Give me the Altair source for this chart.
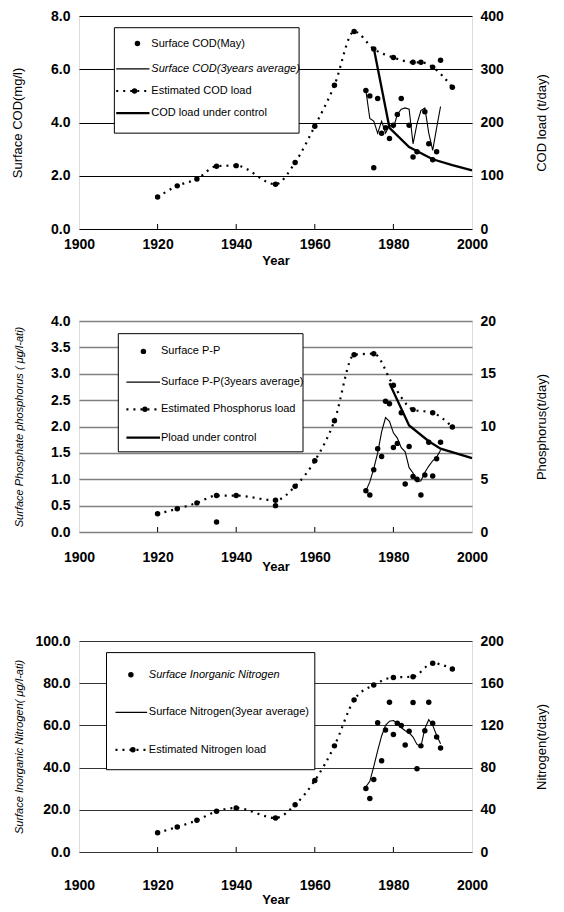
import altair as alt
import pandas as pd

# ---------------- data ----------------
# Panel 1 : COD
cod_may_years = [1973, 1974, 1975, 1976, 1977, 1978, 1979, 1980, 1981, 1982, 1984, 1985, 1986, 1988, 1989, 1990, 1991]
cod_may_vals = [5.2, 5.0, 2.3, 4.9, 3.6, 3.8, 3.4, 3.9, 4.3, 4.9, 3.9, 2.7, 2.9, 4.4, 3.2, 2.6, 2.9]
cod_avg_years = list(range(1973, 1993))
cod_avg_vals = [5.2, 4.15, 4.05, 3.6, 4.05, 3.6, 3.9, 3.8, 4.3, 4.5, 4.55, 4.5, 3.2, 3.95, 4.45, 4.55, 3.6, 2.95, 3.8, 4.6]
cod_load_years = [1920, 1925, 1930, 1935, 1940, 1950, 1955, 1960, 1965, 1970, 1975, 1980, 1985, 1987, 1990, 1995]
cod_load_vals = [60, 81, 94, 118, 119, 84, 125, 193, 270, 371, 338, 322, 313, 313, 304, 266]
cod_load_extra_years = [1992]
cod_load_extra_vals = [317]
cod_ctrl_years = [1975, 1979, 1984, 1990, 1995, 2000]
cod_ctrl_vals = [340, 190, 154, 131, 120, 110]

# Panel 2 : phosphorus
pp_years = [1935, 1950, 1973, 1974, 1975, 1976, 1977, 1978, 1979, 1980, 1981, 1982, 1983, 1984, 1985, 1986, 1987, 1988, 1989, 1990, 1991, 1992]
pp_vals = [0.19, 0.50, 0.78, 0.70, 1.18, 1.58, 1.43, 2.48, 2.43, 1.60, 1.68, 2.26, 0.91, 1.62, 1.05, 1.00, 0.70, 1.08, 1.70, 1.06, 1.39, 1.70]
pp_avg_years = list(range(1973, 1993))
pp_avg_vals = [0.78, 0.95, 1.2, 1.5, 1.9, 2.17, 2.1, 1.88, 1.78, 1.6, 1.52, 1.22, 1.12, 0.95, 0.97, 1.13, 1.25, 1.35, 1.42, 1.55]
p_load_years = [1920, 1925, 1930, 1935, 1940, 1950, 1955, 1960, 1965, 1970, 1975, 1980, 1985, 1990, 1995]
p_load_vals = [1.73, 2.2, 2.76, 3.45, 3.45, 3.0, 4.33, 6.75, 10.55, 16.8, 16.9, 13.9, 11.6, 11.3, 9.95]
p_ctrl_years = [1979, 1984, 1989, 1992, 2000]
p_ctrl_vals = [14.1, 10.1, 8.6, 7.9, 7.0]

# Panel 3 : nitrogen
n_years = list(range(1973, 1993))
n_vals = [30.1, 25.4, 34.4, 61.3, 43.2, 57.8, 71.0, 55.7, 61.0, 60.0, 50.7, 57.2, 70.8, 39.5, 50.3, 57.5, 71.0, 61.0, 54.5, 49.3]
n_avg_years = list(range(1973, 1993))
n_avg_vals = [30.9, 33.5, 40.5, 48.0, 55.0, 60.0, 62.0, 62.3, 61.0, 59.0, 57.5, 56.5, 54.5, 51.0, 50.0, 58.5, 62.7, 60.0, 55.3, 51.3]
n_load_years = [1920, 1925, 1930, 1935, 1940, 1950, 1955, 1960, 1965, 1970, 1975, 1980, 1985, 1990, 1995]
n_load_vals = [18.2, 23.8, 30, 38.6, 41.7, 32.3, 44.8, 67.7, 100.6, 144.2, 158.3, 165.5, 166.1, 179, 173.4]

x_tick_years = [1900, 1920, 1940, 1960, 1980, 2000]
inner_tick_years = [1920, 1940, 1960, 1980]

# ---------------- styling ----------------
NUM_FONT = "'Liberation Sans', Arial, sans-serif"
TXT_FONT = "'Liberation Sans', Arial, sans-serif"
W = 393
ONE = pd.DataFrame({"k": [0]})


def df(years, vals, col):
    return pd.DataFrame({"year": years, col: vals})


def make_panel(H, left_dom, left_vals, left_fmt, left_title, left_italic, left_title_size,
               right_dom, right_vals, right_title, grid_color, grid_width,
               x_lp, x_tp, obs, avg, load, load_extra, ctrl, legend):
    xenc = alt.X("year:Q", scale=alt.Scale(domain=[1900, 2000], nice=False, zero=False),
                 axis=alt.Axis(values=x_tick_years, format="d", grid=False, domain=False, ticks=False,
                               labelFont=NUM_FONT, labelFontSize=14, labelFontWeight="bold",
                               labelPadding=x_lp, labelColor="black", labelFlush=False,
                               labelOverlap=False, title="Year", titleFont=NUM_FONT,
                               titleFontSize=13, titleFontWeight="bold", titlePadding=x_tp,
                               titleColor="black"))
    ly = alt.Y("v:Q", scale=alt.Scale(domain=left_dom, nice=False, zero=True),
               axis=alt.Axis(orient="left", values=left_vals, format=left_fmt, grid=True,
                             gridColor=grid_color, gridWidth=grid_width, domain=False, ticks=False,
                             labelFont=NUM_FONT, labelFontSize=14, labelFontWeight="bold",
                             labelColor="black", labelPadding=9, minExtent=44, maxExtent=44,
                             labelFlush=False, labelOverlap=False,
                             title=left_title, titleFont=TXT_FONT, titleFontSize=left_title_size,
                             titleFontWeight="normal",
                             titleFontStyle="italic" if left_italic else "normal",
                             titleColor="black", titlePadding=11))
    ry = alt.Y("r:Q", scale=alt.Scale(domain=right_dom, nice=False, zero=True),
               axis=alt.Axis(orient="right", values=right_vals, format="d", grid=False,
                             domain=False, ticks=False, labelFont=NUM_FONT, labelFontSize=14,
                             labelFontWeight="bold", labelColor="black", labelPadding=8,
                             minExtent=34, maxExtent=34, labelFlush=False, labelOverlap=False,
                             title=right_title, titleFont=TXT_FONT, titleFontSize=13,
                             titleFontWeight="normal", titleColor="black", titlePadding=29,
                             titleAngle=270, titleBaseline="top"))

    left_layers = []
    if avg is not None:
        left_layers.append(alt.Chart(df(avg[0], avg[1], "v")).mark_line(
            color="black", strokeWidth=1.1).encode(x=xenc, y=ly))
    left_layers.append(alt.Chart(df(obs[0], obs[1], "v")).mark_point(
        filled=True, size=30, color="black", opacity=1).encode(x=xenc, y=ly))
    left = alt.layer(*left_layers)

    right_layers = [
        alt.Chart(df(load[0], load[1], "r")).mark_line(
            color="black", strokeWidth=2.2, strokeDash=[2, 5], interpolate="monotone").encode(x=xenc, y=ry),
        alt.Chart(df(load[0], load[1], "r")).mark_point(
            filled=True, size=30, color="black", opacity=1).encode(x=xenc, y=ry),
    ]
    if load_extra is not None:
        right_layers.append(alt.Chart(df(load_extra[0], load_extra[1], "r")).mark_point(
            filled=True, size=30, color="black", opacity=1).encode(x=xenc, y=ry))
    if ctrl is not None:
        right_layers.append(alt.Chart(df(ctrl[0], ctrl[1], "r")).mark_line(
            color="black", strokeWidth=2.3).encode(x=xenc, y=ry))
    right = alt.layer(*right_layers)

    ticks = alt.Chart(pd.DataFrame({"year": inner_tick_years})).mark_rule(
        color="black", strokeWidth=1).encode(x=xenc, y=alt.value(H), y2=alt.value(H - 5))

    # legend box drawn by hand
    bl, br, bt, bb = legend["box"]
    bl, br, bt, bb = bl * W, br * W, bt * H, bb * H
    bw, bh = br - bl, bb - bt
    leg = [alt.Chart(ONE).mark_rect(fill="white", stroke="black", strokeWidth=1).encode(
        x=alt.value(bl), x2=alt.value(br), y=alt.value(bt), y2=alt.value(bb))]
    ls, le = legend["line"]
    for kind, label, ry_frac, italic in legend["items"]:
        yy = bt + ry_frac * bh
        if kind == "dot":
            leg.append(alt.Chart(ONE).mark_point(filled=True, size=30, color="black", opacity=1).encode(
                x=alt.value(bl + legend["dot"] * bw), y=alt.value(yy)))
        elif kind == "thin":
            leg.append(alt.Chart(ONE).mark_rule(color="black", strokeWidth=1.1).encode(
                x=alt.value(bl + ls * bw), x2=alt.value(bl + le * bw), y=alt.value(yy), y2=alt.value(yy)))
        elif kind == "thick":
            leg.append(alt.Chart(ONE).mark_rule(color="black", strokeWidth=2.3).encode(
                x=alt.value(bl + ls * bw), x2=alt.value(bl + le * bw), y=alt.value(yy), y2=alt.value(yy)))
        elif kind == "dotted":
            leg.append(alt.Chart(ONE).mark_rule(color="black", strokeWidth=2.2, strokeDash=[2, 5]).encode(
                x=alt.value(bl + ls * bw), x2=alt.value(bl + le * bw), y=alt.value(yy), y2=alt.value(yy)))
            leg.append(alt.Chart(ONE).mark_point(filled=True, size=30, color="black", opacity=1).encode(
                x=alt.value(bl + (ls + 0.55 * (le - ls)) * bw), y=alt.value(yy)))
        leg.append(alt.Chart(ONE).mark_text(
            align="left", baseline="middle", font=TXT_FONT, fontSize=11,
            fontStyle="italic" if italic else "normal", color="black", text=label).encode(
            x=alt.value(bl + legend["text"] * bw), y=alt.value(yy)))

    return alt.layer(left, right, ticks, *leg).resolve_scale(y="independent").properties(
        width=W, height=H)


p1 = make_panel(
    213, [0, 8], [0, 2, 4, 6, 8], ".1f", "Surface COD(mg/l)", False, 13,
    [0, 400], [0, 100, 200, 300, 400], "COD load (t/day)", "black", 1,
    8, 3,
    (cod_may_years, cod_may_vals), (cod_avg_years, cod_avg_vals),
    (cod_load_years, cod_load_vals), (cod_load_extra_years, cod_load_extra_vals),
    (cod_ctrl_years, cod_ctrl_vals),
    {"box": (0.09, 0.56, 0.055, 0.55), "dot": 0.125, "text": 0.2, "line": (0.01, 0.19),
     "items": [("dot", "Surface COD(May)", 0.15, False),
               ("thin", "Surface COD(3years average)", 0.39, True),
               ("dotted", "Estimated COD load", 0.60, False),
               ("thick", "COD load under control", 0.81, False)]})

p2 = make_panel(
    211, [0, 4], [0, 0.5, 1, 1.5, 2, 2.5, 3, 3.5, 4], ".1f", "Surface Phosphate phosphorus ( \u03bcg/l-ati)", True, 11,
    [0, 20], [0, 5, 10, 15, 20], "Phosphorus(t/day)", "#808080", 1.6,
    18, -4,
    (pp_years, pp_vals), (pp_avg_years, pp_avg_vals),
    (p_load_years, p_load_vals), None,
    (p_ctrl_years, p_ctrl_vals),
    {"box": (0.10, 0.57, 0.06, 0.62), "dot": 0.136, "text": 0.231, "line": (0.044, 0.226),
     "items": [("dot", "Surface P-P", 0.15, False),
               ("thin", "Surface P-P(3years average)", 0.41, False),
               ("dotted", "Estimated Phosphorus load", 0.64, False),
               ("thick", "Pload under control", 0.88, False)]})

p3 = make_panel(
    211, [0, 100], [0, 20, 40, 60, 80, 100], ".1f", "Surface Inorganic Nitrogen( \u03bcg/l-ati)", True, 11,
    [0, 200], [0, 40, 80, 120, 160, 200], "Nitrogen(t/day)", "#333333", 1,
    26, 1,
    (n_years, n_vals), (n_avg_years, n_avg_vals),
    (n_load_years, n_load_vals), None, None,
    {"box": (0.07, 0.60, 0.055, 0.61), "dot": 0.117, "text": 0.203, "line": (0.043, 0.195),
     "items": [("dot", "Surface Inorganic Nitrogen", 0.19, True),
               ("thin", "Surface Nitrogen(3year average)", 0.51, False),
               ("dotted", "Estimated Nitrogen load", 0.83, False)]}).properties(
    title=alt.TitleParams(text=" ", fontSize=11, offset=3))

chart = alt.vconcat(p1, p2, p3, spacing=45).properties(
    padding={"left": 2, "top": 0, "right": 2, "bottom": 0}
).configure_view(stroke="black", strokeWidth=1).configure(background="white")

chart.save("out.html", embed_options={"renderer": "svg", "actions": False})
